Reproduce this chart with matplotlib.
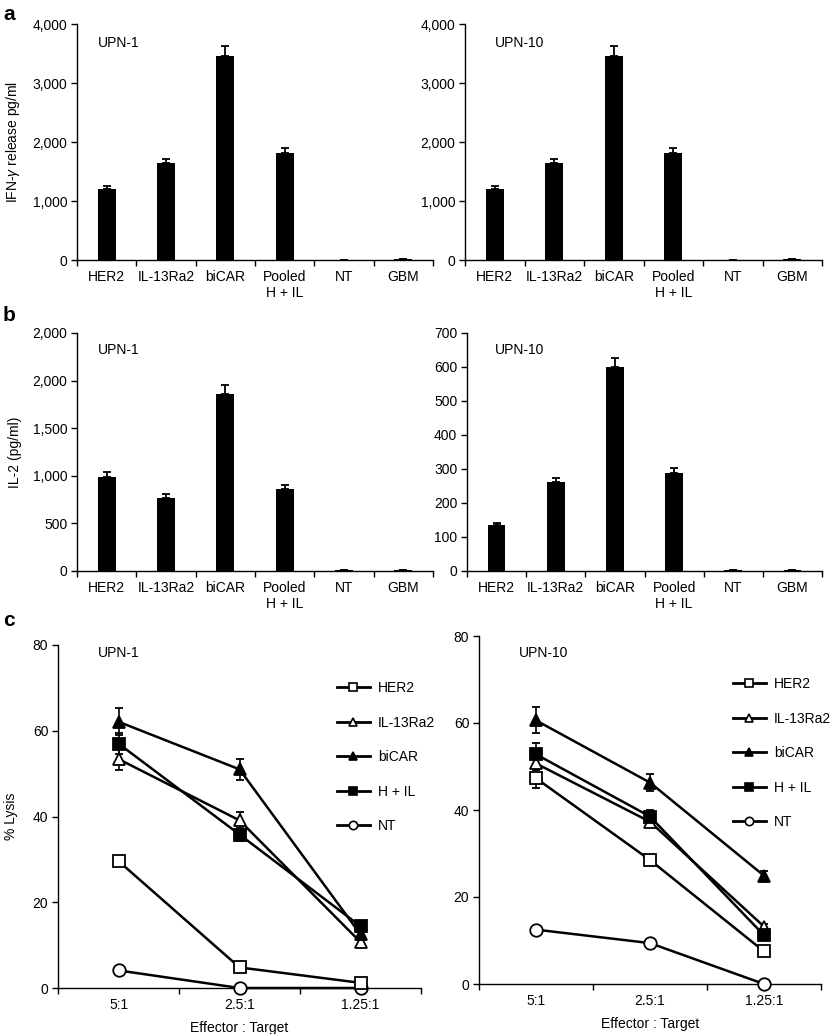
import numpy as np
import matplotlib.pyplot as plt
from matplotlib.lines import Line2D

plt.rcParams['font.family'] = ['Liberation Sans', 'DejaVu Sans']
plt.rcParams['font.size'] = 10
plt.rcParams['mathtext.fontset'] = 'custom'
plt.rcParams['mathtext.it'] = 'Liberation Sans:italic'

# bar panels
groups = ["HER2", "IL-13Ra2", "biCAR", "Pooled\nH + IL", "NT", "GBM"]

ifn_upn1 = [1200, 1640, 3450, 1820, 8, 12]
ifn_upn1_err = [60, 80, 170, 80, 0, 0]
ifn_upn10 = [1200, 1640, 3450, 1820, 8, 12]
ifn_upn10_err = [60, 80, 170, 80, 0, 0]

il2_upn1 = [990, 772, 1860, 860, 6, 6]
il2_upn1_err = [45, 40, 95, 45, 0, 0]
il2_upn10 = [134, 262, 599, 288, 4, 4]
il2_upn10_err = [7, 12, 28, 14, 0, 0]

ifn_ticks = [0, 1000, 2000, 3000, 4000]
ifn_ticklabels = ["0", "1,000", "2,000", "3,000", "4,000"]
il2_upn1_ticks = [0, 500, 1000, 1500, 2000, 2500]
il2_upn1_ticklabels = ["0", "500", "1,000", "1,500", "2,000", "2,000"]
il2_upn10_ticks = [0, 100, 200, 300, 400, 500, 600, 700]
il2_upn10_ticklabels = ["0", "100", "200", "300", "400", "500", "600", "700"]

# lysis panels
ratios = ["5:1", "2.5:1", "1.25:1"]
series_names = ["HER2", "IL-13Ra2", "biCAR", "H + IL", "NT"]

her2_u1 = [29.6, 4.8, 1.2]
her2_u1_err = [0.8, 0.5, 0.3]
il13_u1 = [53.4, 39.1, 10.7]
il13_u1_err = [2.5, 2.0, 0.5]
bicar_u1 = [62.1, 51.0, 12.5]
bicar_u1_err = [3.2, 2.5, 0.8]
hil_u1 = [57.0, 35.8, 14.4]
hil_u1_err = [2.5, 1.5, 0.8]
nt_u1 = [4.1, 0.0, 0.0]
nt_u1_err = [0.3, 0.2, 0.2]

her2_u10 = [47.3, 28.5, 7.5]
her2_u10_err = [2.3, 0.8, 0.5]
il13_u10 = [50.7, 37.3, 13.2]
il13_u10_err = [1.5, 1.0, 0.5]
bicar_u10 = [60.6, 46.3, 24.9]
bicar_u10_err = [3.0, 2.0, 1.0]
hil_u10 = [52.8, 38.5, 11.2]
hil_u10_err = [2.5, 1.5, 0.8]
nt_u10 = [12.5, 9.4, 0.0]
nt_u10_err = [0.3, 0.3, 0.2]

lysis_ticks = [0, 20, 40, 60, 80]

W, H = 834, 1034
fig = plt.figure(figsize=(W / 100, H / 100), dpi=100)


def px_axes(x0, y0, x1, y1):
    return fig.add_axes([x0 / W, 1 - y1 / H, (x1 - x0) / W, (y1 - y0) / H])


def style_axes(ax, ncat, labels):
    for s in ["top", "right"]:
        ax.spines[s].set_visible(False)
    for s in ["left", "bottom"]:
        ax.spines[s].set_linewidth(1.0)
    ax.set_xlim(0, ncat)
    ax.set_xticks(np.arange(ncat + 1))
    ax.set_xticklabels([])
    ax.set_xticks(np.arange(ncat) + 0.5, minor=True)
    ax.set_xticklabels(labels, minor=True)
    ax.tick_params(axis="x", which="major", length=4, width=1, direction="out")
    ax.tick_params(axis="x", which="minor", length=0, pad=7)
    ax.tick_params(axis="y", length=4, width=1, direction="out", pad=3)


def bar_panel(ax, vals, errs, ticks, ticklabels):
    x = np.arange(len(groups)) + 0.5
    ax.bar(x, vals, width=0.3, color="black")
    ax.errorbar(x, vals, yerr=[np.zeros(len(errs)), errs], fmt="none",
                ecolor="black", elinewidth=1.3, capsize=3, capthick=1.3)
    style_axes(ax, len(groups), groups)
    ax.set_ylim(0, ticks[-1])
    ax.set_yticks(ticks)
    ax.set_yticklabels(ticklabels)


markers = ["s", "^", "^", "s", "o"]
fills = ["white", "white", "black", "black", "white"]


def lysis_panel(ax, vals_list, errs_list):
    x = np.arange(len(ratios)) + 0.5
    order = [4, 0, 1, 3, 2]
    for i in order:
        ax.errorbar(x, vals_list[i], yerr=errs_list[i], color="black", lw=1.8,
                    marker=markers[i], ms=9, mfc=fills[i], mec="black", mew=1.3,
                    ecolor="black", elinewidth=1.2, capsize=3, capthick=1.2,
                    clip_on=False, zorder=3)
    style_axes(ax, len(ratios), ratios)
    ax.set_ylim(0, 80)
    ax.set_yticks(lysis_ticks)
    ax.set_xlabel("Effector : Target", labelpad=7)


def lysis_legend(x0, ytop):
    handles = [Line2D([], [], color="black", lw=2.0, marker=markers[i], ms=6,
                      mfc=fills[i], mec="black", mew=1.2) for i in range(5)]
    fig.legend(handles, series_names, loc="upper left",
               bbox_to_anchor=(x0 / W, 1 - ytop / H), frameon=False,
               borderpad=0, borderaxespad=0, handlelength=2.37,
               handletextpad=0.58, labelspacing=1.48, fontsize=10)


# panel a
ax = px_axes(77, 24, 433, 260)
bar_panel(ax, ifn_upn1, ifn_upn1_err, ifn_ticks, ifn_ticklabels)
ax.set_ylabel(r"IFN-$\mathit{\gamma}$ release pg/ml")
ax.yaxis.set_label_coords(-0.155, 0.5)
ax = px_axes(465, 24, 822, 260)
bar_panel(ax, ifn_upn10, ifn_upn10_err, ifn_ticks, ifn_ticklabels)

# panel b
ax = px_axes(77, 333, 433, 571)
bar_panel(ax, il2_upn1, il2_upn1_err, il2_upn1_ticks, il2_upn1_ticklabels)
ax.set_ylabel("IL-2 (pg/ml)")
ax.yaxis.set_label_coords(-0.155, 0.5)
ax = px_axes(467, 333, 822, 571)
bar_panel(ax, il2_upn10, il2_upn10_err, il2_upn10_ticks, il2_upn10_ticklabels)

# panel c
ax = px_axes(58, 645, 421, 988)
lysis_panel(ax, [her2_u1, il13_u1, bicar_u1, hil_u1, nt_u1],
            [her2_u1_err, il13_u1_err, bicar_u1_err, hil_u1_err, nt_u1_err])
ax.set_ylabel("% Lysis")
ax.yaxis.set_label_coords(-0.11, 0.5)
lysis_legend(337, 681)
ax = px_axes(479, 636, 821, 984)
lysis_panel(ax, [her2_u10, il13_u10, bicar_u10, hil_u10, nt_u10],
            [her2_u10_err, il13_u10_err, bicar_u10_err, hil_u10_err, nt_u10_err])
lysis_legend(733, 677)

# sample labels
for x, y, t in [(98, 43, "UPN-1"), (495, 43, "UPN-10"), (98, 350, "UPN-1"),
                (495, 350, "UPN-10"), (98, 653, "UPN-1"), (519, 653, "UPN-10")]:
    fig.text(x / W, 1 - y / H, t, va="center", ha="left", fontsize=10)

# panel letters
for y, t in [(14, "a"), (316, "b"), (620, "c")]:
    fig.text(3 / W, 1 - y / H, t, va="center", ha="left", fontsize=15,
             fontweight="bold")

fig.savefig("out.png", dpi=100)
